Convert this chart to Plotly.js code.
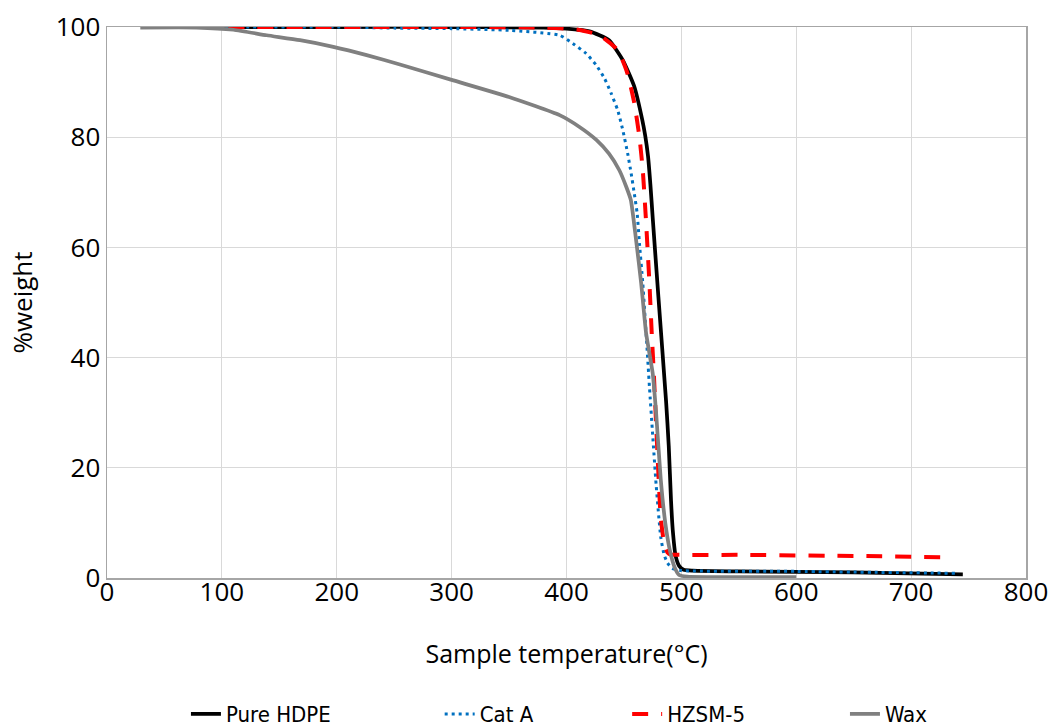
<!DOCTYPE html>
<html>
<head>
<meta charset="utf-8">
<script src="https://cdn.plot.ly/plotly-3.0.1.min.js"></script>
<style>html,body{margin:0;padding:0;background:#fff;}#chart{width:1052px;height:728px;}</style>
</head>
<body>
<div id="chart"></div>
<script>
// Pure HDPE
const hdpeT = [30, 100, 200, 300, 380, 400, 420, 437, 449, 459, 466, 468.5, 471, 473, 475, 480, 486.7, 489, 491, 492.5, 495, 498, 502, 510, 550, 650, 745];
const hdpeW = [100, 100, 100, 100, 99.9, 99.7, 99.2, 97.6, 94, 89.2, 83.1, 80.3, 76.5, 71.5, 65.5, 51, 32, 24, 14, 8.7, 4, 2.2, 1.5, 1.35, 1.2, 1.0, 0.67];
// Cat A
const catT = [30, 100, 200, 250, 300, 350, 394, 405.5, 417, 425.8, 433, 438.8, 444.6, 449, 453.3, 456.3, 459, 461.5, 463.5, 466.4, 469.3, 472.2, 475, 478, 482, 485, 488, 492, 500, 600, 740];
const catW = [100, 100, 100, 99.8, 99.7, 99.4, 98.5, 97, 95.2, 93.1, 90.7, 88, 84.9, 81.3, 77, 73.4, 69.8, 66.2, 60.7, 53.5, 44.4, 34.7, 26, 17, 7.5, 4.2, 2.7, 1.75, 1.35, 1.2, 0.85];
// HZSM-5
const zsmT = [30, 100, 200, 300, 380, 410, 428.7, 444.6, 453, 459, 463.5, 466.4, 469, 472.2, 474.2, 476, 478, 480, 482, 485, 488, 490, 550, 650, 736];
const zsmW = [100, 100, 100, 100, 99.9, 99.5, 98.5, 95.8, 91.6, 86.2, 80, 74, 65.6, 53.5, 44.4, 37.2, 28, 19, 11, 6.3, 4.6, 4.3, 4.2, 4.0, 3.75];
// Wax
const waxT = [29, 78, 110, 139, 168, 197, 226, 255, 300, 350, 394, 411, 426, 437, 446, 452, 456, 460.6, 465, 469.3, 475, 478, 482, 486, 490, 494, 498, 505, 600];
const waxW = [99.9, 99.9, 99.5, 98.5, 97.6, 96.4, 94.9, 93.2, 90.4, 87.3, 84, 81.9, 79.5, 77, 74, 71, 68.6, 61.3, 53.5, 44.4, 37.2, 30, 18, 10, 5, 2, 0.55, 0.25, 0.15];

const xTicks = [0, 100, 200, 300, 400, 500, 600, 700, 800];
const yTicks = [0, 20, 40, 60, 80, 100];

const FONT = 'Open Sans, sans-serif';
const LEGFONT = {family: 'DejaVu Sans Condensed, Liberation Sans, sans-serif', size: 22, color: '#000'};

function leg(x) {
  return {orientation: 'h', x: x, xanchor: 'left', y: -0.247, yanchor: 'middle',
          itemwidth: 30, font: LEGFONT, bgcolor: 'rgba(0,0,0,0)'};
}

const traces = [
  {x: hdpeT, y: hdpeW, name: 'Pure HDPE', legend: 'legend', mode: 'lines', line: {color: '#000000', width: 3.75, shape: 'spline', smoothing: 0.5}},
  {x: catT, y: catW, name: 'Cat A', legend: 'legend2', mode: 'lines', line: {color: '#0070C0', width: 3, dash: '3px,4px', shape: 'spline', smoothing: 0.5}},
  {x: zsmT, y: zsmW, name: 'HZSM-5', legend: 'legend3', mode: 'lines', line: {color: '#FF0000', width: 4, dash: '16px,13px', shape: 'spline', smoothing: 0.5}},
  {x: waxT, y: waxW, name: 'Wax', legend: 'legend4', mode: 'lines', line: {color: '#808080', width: 3.75, shape: 'spline', smoothing: 0.5}}
];

const layout = {
  width: 1052, height: 728,
  margin: {l: 107, r: 26, t: 27, b: 150, autoexpand: false},
  paper_bgcolor: '#ffffff', plot_bgcolor: '#ffffff',
  font: {family: FONT, color: '#000000'},
  showlegend: true,
  legend: leg(0.0859),
  legend2: leg(0.362),
  legend3: leg(0.566),
  legend4: leg(0.803),
  xaxis: {
    range: [0, 800], tickvals: xTicks, ticktext: xTicks.map(String),
    showgrid: true, gridcolor: '#d9d9d9', gridwidth: 1,
    showline: true, linecolor: '#a6a6a6', linewidth: 1.5, mirror: true,
    ticks: '', zeroline: false, automargin: false, ticklabelstandoff: -10,
    tickfont: {family: FONT, size: 26, color: '#000'},
    title: {text: 'Sample temperature(°C)', font: {family: FONT, size: 25, color: '#000'}, standoff: 38}
  },
  yaxis: {
    range: [0, 100], tickvals: yTicks, ticktext: yTicks.map(String),
    showgrid: true, gridcolor: '#d9d9d9', gridwidth: 1,
    showline: true, linecolor: '#a6a6a6', linewidth: 1.5, mirror: true,
    ticks: '', zeroline: false, automargin: false,
    tickfont: {family: FONT, size: 26, color: '#000'},
    title: {text: '%weight', font: {family: FONT, size: 26, color: '#000'}, standoff: 15}
  }
};

Plotly.newPlot('chart', traces, layout, {displayModeBar: false, staticPlot: true});
</script>
</body>
</html>
